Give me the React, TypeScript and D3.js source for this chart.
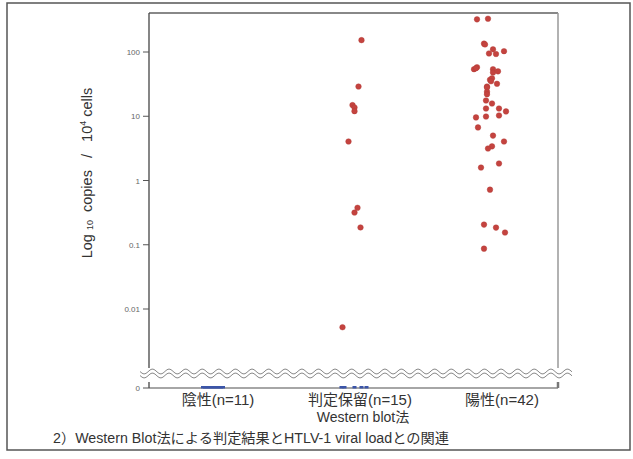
import React from 'react';
import * as d3 from 'd3';

const categories = ['陰性(n=11)', '判定保留(n=15)', '陽性(n=42)'];

// viral load values (copies / 10^4 cells), 0 = below detection
const negativeValues = [0, 0, 0, 0, 0, 0, 0, 0, 0, 0, 0];
const negativeJitter = [-14, -12, -10, -8, -6, -4, -2, 0, 2, 4, 6];

const indeterminateValues = [153, 29, 14.9, 13.7, 12.0, 4.05, 0.376, 0.317, 0.186, 0.0052, 0, 0, 0, 0, 0];
const indeterminateJitter = [8, 5, -1, 1, 1, -5, 4, 1, 7, -11, -12, -9, 1, 8, 13];

const positiveValues = [
  322, 330, 135, 131, 110, 95, 93, 103, 54, 58, 56, 54, 48, 50, 37, 39, 35, 32, 29, 28, 24,
  22, 17.6, 15.8, 13.2, 13.2, 11.9, 9.6, 9.9, 10.3, 6.7, 5.0, 4.05, 3.4, 3.15, 1.84, 1.59,
  0.72, 0.206, 0.185, 0.155, 0.087,
];
const positiveJitter = [
  -13, -2, -6, -5, 3, -1, 6, 14, -16, -13, -14, 3, 3, 8, 0, 2, 1, 7, -3, -3, -3,
  -3, -4, 2, -4, 9, 16, -14, -4, 9, -12, 3, 14, 2, -2, 9, -9,
  0, -6, 6, 15, -6,
];

const yTicks = [100, 10, 1, 0.1, 0.01];
const yTickLabels = ['100', '10', '1', '0.1', '0.01'];

const groups = [
  { cat: categories[0], values: negativeValues, jitter: negativeJitter },
  { cat: categories[1], values: indeterminateValues, jitter: indeterminateJitter },
  { cat: categories[2], values: positiveValues, jitter: positiveJitter },
];

const W = 633;
const H = 459;
const left = 149;
const right = 558;
const top = 13;
const zeroY = 388;
const breakTop = 368;
const font = '"Liberation Sans", Arial, "Noto Sans CJK JP", sans-serif';

const App = () => {
  const x = d3.scalePoint<string>().domain(categories).range([217, 490]);
  const xLabel = d3.scalePoint<string>().domain(categories).range([218, 502]);
  const y = d3.scaleLog().domain([0.01, 100]).range([309, 52]);

  const wave = (c: number) => {
    const pts: [number, number][] = d3.range(140, 573, 1).map(px => [px, c + 2.4 * Math.sin((2 * Math.PI * (px - 140)) / 16.6)]);
    return d3.line()(pts) || '';
  };

  const dots = groups.flatMap(g =>
    g.values.map((v, i) => ({ cat: g.cat, v, dx: g.jitter[i] }))
  );

  return (
    <svg width={W} height={H} style={{ position: 'fixed', left: 0, top: 0, background: '#fff' }} fontFamily={font}>
      <rect x={0} y={0} width={W} height={H} fill="#fff" />
      <rect x={7} y={3} width={623} height={447} fill="none" stroke="#555" strokeWidth={1.5} />

      {/* plot frame */}
      <line x1={left} x2={right} y1={top} y2={top} stroke="#888" strokeWidth={2} />
      <line x1={right} x2={right} y1={top} y2={breakTop} stroke="#999" strokeWidth={1.5} />
      <line x1={left} x2={left} y1={top} y2={breakTop} stroke="#444" strokeWidth={1.3} />
      <line x1={left} x2={right} y1={zeroY} y2={zeroY} stroke="#888" strokeWidth={1.5} />
      <line x1={left} x2={left} y1={382} y2={zeroY} stroke="#444" strokeWidth={1.3} />
      <line x1={right} x2={right} y1={382} y2={zeroY} stroke="#777" strokeWidth={2.5} />

      {/* axis break */}
      <path d={wave(371.5)} fill="none" stroke="#888" strokeWidth={1} />
      <path d={wave(375.5)} fill="none" stroke="#888" strokeWidth={1} />

      {/* y ticks */}
      {yTicks.map((t, i) => (
        <g key={t}>
          <line x1={left - 6} x2={left} y1={y(t)} y2={y(t)} stroke="#555" strokeWidth={1} />
          <text x={left - 9} y={y(t) + 3} fontSize={8} fill="#666" textAnchor="end">{yTickLabels[i]}</text>
        </g>
      ))}
      <line x1={left - 6} x2={left} y1={zeroY} y2={zeroY} stroke="#555" strokeWidth={1} />
      <text x={left - 9} y={zeroY + 3} fontSize={8} fill="#666" textAnchor="end">0</text>

      {/* y label */}
      <text transform="translate(92,173) rotate(-90)" textAnchor="middle" fontSize={14.5} fill="#333" style={{ whiteSpace: 'pre' }}>
        <tspan>Log </tspan>
        <tspan fontSize={9} dy={1}>10</tspan>
        <tspan dy={-1}>  copies   /   10</tspan>
        <tspan fontSize={9} dy={-6}>4</tspan>
        <tspan dy={6}> cells</tspan>
      </text>

      {/* points */}
      {dots.map((d, i) =>
        d.v > 0 ? (
          <circle key={i} cx={(x(d.cat) || 0) + d.dx} cy={y(d.v)} r={2.8} fill="#c4433f" stroke="#b03a36" strokeWidth={0.4} />
        ) : (
          <rect key={i} x={(x(d.cat) || 0) + d.dx - 2} y={zeroY - 2} width={4} height={2.5} fill="#3b55a8" />
        )
      )}

      {/* x labels */}
      {categories.map(c => (
        <text key={c} x={xLabel(c)} y={405} fontSize={15} fill="#333" textAnchor="middle">{c}</text>
      ))}
      <text x={363} y={422} fontSize={14} fill="#333" textAnchor="middle">Western blot法</text>

      <text x={53} y={443} fontSize={14} fill="#333" textLength={396} lengthAdjust="spacingAndGlyphs">
        2）Western Blot法による判定結果とHTLV-1 viral loadとの関連
      </text>
    </svg>
  );
};

export default App;
